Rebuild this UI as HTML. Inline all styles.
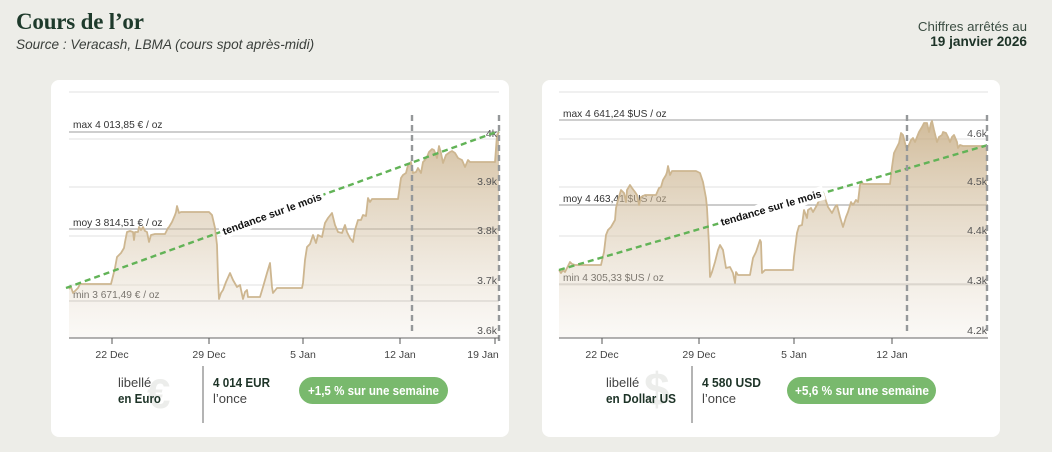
<!DOCTYPE html>
<html><head><meta charset="utf-8">
<style>
html,body{margin:0;padding:0;background:#edede8;}
body{width:1052px;height:452px;position:relative;overflow:hidden;font-family:"Liberation Sans",sans-serif;}
.card{position:absolute;background:#fff;border-radius:8px;top:80px;height:357px;width:458px;}
h1{position:absolute;left:16px;top:9px;margin:0;font-family:"Liberation Serif",serif;font-weight:bold;font-size:23px;color:#1e3a2b;letter-spacing:-0.2px;}
.src{position:absolute;left:16px;top:37px;font-style:italic;font-size:13.6px;color:#3a3f3b;}
.rh{position:absolute;right:25px;top:19px;text-align:right;font-size:13.3px;line-height:15px;color:#3b4d42;}
.rh b{color:#1d3327;font-size:13.6px;}
svg{position:absolute;left:0;top:0;}
</style></head><body>
<h1>Cours de l’or</h1>
<div class="src">Source : Veracash, LBMA (cours spot après-midi)</div>
<div class="rh">Chiffres arrêtés au<br><b>19 janvier 2026</b></div>
<div class="card" style="left:51px"></div>
<div class="card" style="left:542px"></div>
<svg width="1052" height="452" viewBox="0 0 1052 452" xmlns="http://www.w3.org/2000/svg" font-family="Liberation Sans, sans-serif">
<defs>
<linearGradient id="g1" gradientUnits="userSpaceOnUse" x1="0" y1="115" x2="0" y2="338">
<stop offset="0" stop-color="rgb(196,168,125)" stop-opacity="0.8"/>
<stop offset="0.55" stop-color="rgb(214,196,168)" stop-opacity="0.5"/>
<stop offset="1" stop-color="rgb(240,234,225)" stop-opacity="0.3"/>
</linearGradient>
</defs>

<!-- LEFT CHART -->
<g>
<g stroke="#e8e8e6" stroke-width="1.2">
<line x1="69" y1="92" x2="499" y2="92"/>
<line x1="69" y1="139" x2="499" y2="139"/>
<line x1="69" y1="187" x2="499" y2="187"/>
<line x1="69" y1="236" x2="499" y2="236"/>
<line x1="69" y1="285" x2="499" y2="285"/>
</g>
<line x1="69" y1="132" x2="499" y2="132" stroke="#bdbdbd" stroke-width="1.5"/>
<line x1="69" y1="229" x2="499" y2="229" stroke="#9a9a9a" stroke-width="1"/>
<line x1="69" y1="301" x2="499" y2="301" stroke="#c4c4c4" stroke-width="1"/>
<g font-size="10.2" fill="#333">
<text x="73" y="128">max 4 013,85 € / oz</text>
<text x="73" y="226">moy 3 814,51 € / oz</text>
<text x="73" y="298">min 3 671,49 € / oz</text>
</g>
<path fill="url(#g1)" d="M69,289 L71,287 73,293 76,290 78,288 80,284 83,284 111,284 113,276 115,268 117,257 119,255 121,253 124,248 125,242 127,232 130,231 133,232 134,240 135,232 138,232 139,227 141,230 143,227 145,231 147,232 149,242 151,235 155,234 165,234 168,228 169,227 172,222 175,215 176,212 177,206 179,213 181,212 209,212 212,215 215,228 217,245 218,278 219,299 221,293 223,290 226,282 230,273 233,280 237,287 240,285 243,299 245,292 247,290 248,297 260,297 263,287 267,273 270,263 272,287 273,293 277,288 302,288 303,283 305,260 307,247 310,244 313,235 316,243 318,235 322,237 325,223 328,218 332,213 335,225 338,232 342,233 345,225 347,232 350,238 353,242 355,230 358,220 361,220 363,215 366,216 368,198 370,202 372,199 398,199 401,178 403,175 406,173 408,165 411,162 413,173 416,172 418,168 421,173 423,162 425,160 427,157 429,152 432,149 434,150 437,158 439,146 441,153 443,163 446,155 450,152 452,151 455,153 458,158 462,160 465,167 468,160 470,162 495,162 497,135 499,132 L499,338 L69,338 Z"/>
<polyline fill="none" stroke="#cdb690" stroke-width="1.8" stroke-linejoin="round" points="69,289 71,287 73,293 76,290 78,288 80,284 83,284 111,284 113,276 115,268 117,257 119,255 121,253 124,248 125,242 127,232 130,231 133,232 134,240 135,232 138,232 139,227 141,230 143,227 145,231 147,232 149,242 151,235 155,234 165,234 168,228 169,227 172,222 175,215 176,212 177,206 179,213 181,212 209,212 212,215 215,228 217,245 218,278 219,299 221,293 223,290 226,282 230,273 233,280 237,287 240,285 243,299 245,292 247,290 248,297 260,297 263,287 267,273 270,263 272,287 273,293 277,288 302,288 303,283 305,260 307,247 310,244 313,235 316,243 318,235 322,237 325,223 328,218 332,213 335,225 338,232 342,233 345,225 347,232 350,238 353,242 355,230 358,220 361,220 363,215 366,216 368,198 370,202 372,199 398,199 401,178 403,175 406,173 408,165 411,162 413,173 416,172 418,168 421,173 423,162 425,160 427,157 429,152 432,149 434,150 437,158 439,146 441,153 443,163 446,155 450,152 452,151 455,153 458,158 462,160 465,167 468,160 470,162 495,162 497,135 499,132"/>
<g font-size="10.5" fill="#555" text-anchor="end">
<text x="497" y="137">4k</text>
<text x="497" y="185">3.9k</text>
<text x="497" y="234">3.8k</text>
<text x="497" y="284">3.7k</text>
<text x="497" y="334">3.6k</text>
</g>
<line x1="66" y1="288" x2="499" y2="131" stroke="#62b357" stroke-width="2.4" stroke-dasharray="6,4"/>
<g transform="translate(272,214) rotate(-19.9)">
<rect x="-55" y="-7" width="110" height="14" fill="#fff"/>
<text x="0" y="3.5" text-anchor="middle" font-size="10.5" font-weight="bold" fill="#111">tendance sur le mois</text>
</g>
<g stroke="#95989a" stroke-width="2.4" stroke-dasharray="6,4">
<line x1="412" y1="115" x2="412" y2="333"/>
<line x1="499" y1="115" x2="499" y2="345"/>
</g>
<line x1="69" y1="338" x2="499" y2="338" stroke="#666" stroke-width="1"/>
<g stroke="#555" stroke-width="1">
<line x1="112" y1="338" x2="112" y2="344"/>
<line x1="209" y1="338" x2="209" y2="344"/>
<line x1="303" y1="338" x2="303" y2="344"/>
<line x1="400" y1="338" x2="400" y2="344"/>
<line x1="495" y1="338" x2="495" y2="344"/>
</g>
<g font-size="10.5" fill="#444" text-anchor="middle">
<text x="112" y="358">22 Dec</text>
<text x="209" y="358">29 Dec</text>
<text x="303" y="358">5 Jan</text>
<text x="400" y="358">12 Jan</text>
<text x="483" y="358">19 Jan</text>
</g>
<!-- stats -->
<text x="147" y="408" font-size="42" font-weight="bold" fill="#ecedeb">€</text>
<text x="118" y="387" font-size="13" fill="#444">libellé</text>
<text x="118" y="403" font-size="13" font-weight="bold" fill="#1d3327" textLength="43" lengthAdjust="spacingAndGlyphs">en Euro</text>
<line x1="203" y1="366" x2="203" y2="423" stroke="#9a9a9a" stroke-width="1.5"/>
<text x="213" y="387" font-size="13" font-weight="bold" fill="#1d3327" textLength="57" lengthAdjust="spacingAndGlyphs">4 014 EUR</text>
<text x="213" y="403" font-size="13" fill="#444">l’once</text>
<rect x="299" y="377" width="149" height="27" rx="13.5" fill="#79b96d"/>
<text x="308" y="395" font-size="13" font-weight="bold" fill="#fff" textLength="131" lengthAdjust="spacingAndGlyphs">+1,5 % sur une semaine</text>
</g>

<!-- RIGHT CHART -->
<g>
<g stroke="#e8e8e6" stroke-width="1.2">
<line x1="559" y1="92" x2="988" y2="92"/>
<line x1="559" y1="139" x2="988" y2="139"/>
<line x1="559" y1="187" x2="988" y2="187"/>
<line x1="559" y1="236" x2="988" y2="236"/>
<line x1="559" y1="285" x2="988" y2="285"/>
</g>
<line x1="559" y1="120" x2="988" y2="120" stroke="#bdbdbd" stroke-width="1.5"/>
<line x1="559" y1="205" x2="988" y2="205" stroke="#9a9a9a" stroke-width="1"/>
<line x1="559" y1="284" x2="988" y2="284" stroke="#c4c4c4" stroke-width="1"/>
<g font-size="10.2" fill="#333">
<text x="563" y="117">max 4 641,24 $US / oz</text>
<text x="563" y="202">moy 4 463,41 $US / oz</text>
<text x="563" y="281">min 4 305,33 $US / oz</text>
</g>
<path fill="url(#g1)" d="M559,270 L561,273 563,270 565,272 567,268 570,262 572,264 575,265 601,265 604,252 606,235 608,230 611,227 615,220 616,208 618,200 621,190 624,193 626,202 627,190 630,185 632,188 635,192 637,195 639,205 641,197 645,195 656,195 659,188 661,187 663,180 666,175 667,172 668,166 670,175 672,171 696,171 700,173 703,182 706,198 707,208 709,245 710,277 712,272 715,262 718,250 720,245 723,250 725,262 726,268 730,267 733,273 735,283 736,272 738,275 750,275 753,258 756,252 760,240 761,242 762,273 765,270 793,270 794,257 797,233 799,226 802,225 804,210 807,218 808,210 811,208 813,212 817,205 820,198 823,192 825,198 828,207 832,213 835,207 837,205 840,217 843,227 846,217 848,212 851,202 853,205 856,200 858,202 860,185 862,182 863,184 890,184 892,167 894,153 897,147 899,143 901,133 903,135 906,147 908,147 911,140 913,138 915,142 917,137 919,132 922,127 924,123 927,123 929,132 931,123 932,121 934,130 937,142 939,137 942,135 943,132 946,133 948,137 950,142 952,137 954,135 957,142 958,148 960,145 963,146 987,146 L987,338 L559,338 Z"/>
<polyline fill="none" stroke="#cdb690" stroke-width="1.8" stroke-linejoin="round" points="559,270 561,273 563,270 565,272 567,268 570,262 572,264 575,265 601,265 604,252 606,235 608,230 611,227 615,220 616,208 618,200 621,190 624,193 626,202 627,190 630,185 632,188 635,192 637,195 639,205 641,197 645,195 656,195 659,188 661,187 663,180 666,175 667,172 668,166 670,175 672,171 696,171 700,173 703,182 706,198 707,208 709,245 710,277 712,272 715,262 718,250 720,245 723,250 725,262 726,268 730,267 733,273 735,283 736,272 738,275 750,275 753,258 756,252 760,240 761,242 762,273 765,270 793,270 794,257 797,233 799,226 802,225 804,210 807,218 808,210 811,208 813,212 817,205 820,198 823,192 825,198 828,207 832,213 835,207 837,205 840,217 843,227 846,217 848,212 851,202 853,205 856,200 858,202 860,185 862,182 863,184 890,184 892,167 894,153 897,147 899,143 901,133 903,135 906,147 908,147 911,140 913,138 915,142 917,137 919,132 922,127 924,123 927,123 929,132 931,123 932,121 934,130 937,142 939,137 942,135 943,132 946,133 948,137 950,142 952,137 954,135 957,142 958,148 960,145 963,146 987,146"/>
<g font-size="10.5" fill="#555" text-anchor="end">
<text x="987" y="137">4.6k</text>
<text x="987" y="185">4.5k</text>
<text x="987" y="234">4.4k</text>
<text x="987" y="284">4.3k</text>
<text x="987" y="334">4.2k</text>
</g>
<line x1="559" y1="270" x2="988" y2="145" stroke="#62b357" stroke-width="2.4" stroke-dasharray="6,4"/>
<g transform="translate(771,208) rotate(-16.2)">
<rect x="-55" y="-7" width="110" height="14" fill="#fff"/>
<text x="0" y="3.5" text-anchor="middle" font-size="10.5" font-weight="bold" fill="#111">tendance sur le mois</text>
</g>
<g stroke="#95989a" stroke-width="2.4" stroke-dasharray="6,4">
<line x1="907" y1="115" x2="907" y2="333"/>
<line x1="987" y1="115" x2="987" y2="333"/>
</g>
<line x1="559" y1="338" x2="988" y2="338" stroke="#666" stroke-width="1"/>
<g stroke="#555" stroke-width="1">
<line x1="602" y1="338" x2="602" y2="344"/>
<line x1="699" y1="338" x2="699" y2="344"/>
<line x1="794" y1="338" x2="794" y2="344"/>
<line x1="892" y1="338" x2="892" y2="344"/>
</g>
<g font-size="10.5" fill="#444" text-anchor="middle">
<text x="602" y="358">22 Dec</text>
<text x="699" y="358">29 Dec</text>
<text x="794" y="358">5 Jan</text>
<text x="892" y="358">12 Jan</text>
</g>
<!-- stats -->
<text x="644" y="405" font-size="46" font-weight="bold" fill="#ecedeb">$</text>
<text x="606" y="387" font-size="13" fill="#444">libellé</text>
<text x="606" y="403" font-size="13" font-weight="bold" fill="#1d3327" textLength="70" lengthAdjust="spacingAndGlyphs">en Dollar US</text>
<line x1="692" y1="366" x2="692" y2="423" stroke="#9a9a9a" stroke-width="1.5"/>
<text x="702" y="387" font-size="13" font-weight="bold" fill="#1d3327" textLength="59" lengthAdjust="spacingAndGlyphs">4 580 USD</text>
<text x="702" y="403" font-size="13" fill="#444">l’once</text>
<rect x="787" y="377" width="149" height="27" rx="13.5" fill="#79b96d"/>
<text x="795" y="395" font-size="13" font-weight="bold" fill="#fff" textLength="134" lengthAdjust="spacingAndGlyphs">+5,6 % sur une semaine</text>
</g>
</svg>
</body></html>
